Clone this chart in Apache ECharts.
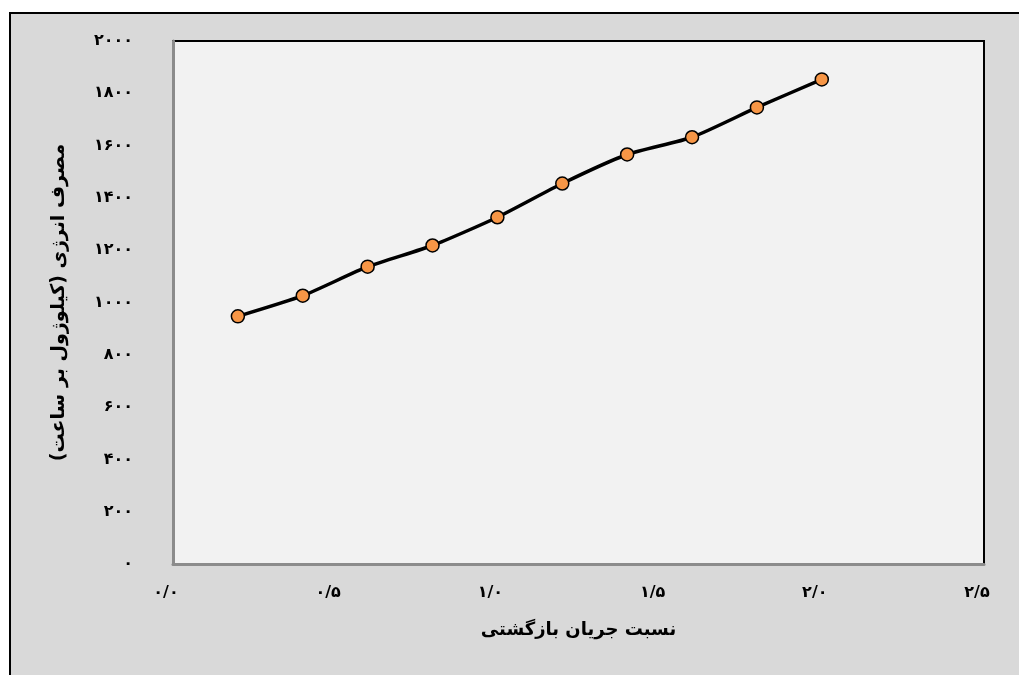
<!DOCTYPE html>
<html>
<head>
<meta charset="utf-8">
<title>energy chart</title>
<script src="https://cdn.jsdelivr.net/npm/echarts@6/dist/echarts.min.js"></script>
<style>
html,body{margin:0;padding:0;background:#fff;}
#chartDiv{width:1019px;height:675px;}
</style>
</head>
<body>
<div id="chartDiv"></div>
<script>
// نسبت جریان بازگشتی
var refluxRatio = [0.2, 0.4, 0.6, 0.8, 1.0, 1.2, 1.4, 1.6, 1.8, 2.0];
// مصرف انرژی
var energyUse = [947, 1026, 1137, 1218, 1326, 1455, 1566, 1632, 1746, 1853];
// tick labels
var xTickValues = [0, 0.5, 1.0, 1.5, 2.0, 2.5];
var xTickLabels = ['۰/۰', '۰/۵', '۱/۰', '۱/۵', '۲/۰', '۲/۵'];
var yTickValues = [0, 200, 400, 600, 800, 1000, 1200, 1400, 1600, 1800, 2000];
var yTickLabels = ['۰', '۲۰۰', '۴۰۰', '۶۰۰', '۸۰۰', '۱۰۰۰', '۱۲۰۰', '۱۴۰۰', '۱۶۰۰', '۱۸۰۰', '۲۰۰۰'];

var xTitle = 'نسبت جریان بازگشتی';
var yTitle = 'مصرف انرژی (کیلوژول بر ساعت)';

function tickLabel(values, labels, v){
	for (var i = 0; i < values.length; i++) {
		if (Math.abs(values[i] - v) < 1e-6) return labels[i];
	}
	return '';
}

function showChart(){
	var myChart = echarts.init(document.getElementById('chartDiv'));
	var points = [];
	for (var i = 0; i < refluxRatio.length; i++) {
		points.push([refluxRatio[i], energyUse[i]]);
	}
	var font = 'DejaVu Sans';
	var option = {
		backgroundColor: '#ffffff',
		animation: false,
		// outer frame
		graphic: [{
			type: 'rect',
			z: -10,
			shape: {x: 10, y: 13, width: 1030, height: 680},
			style: {fill: '#d9d9d9', stroke: '#000', lineWidth: 2}
		}],
		grid: {
			left: 173,
			top: 41,
			right: 35,
			bottom: 111,
			show: true,
			backgroundColor: '#f2f2f2',
			borderColor: '#000',
			borderWidth: 2
		},
		xAxis: {
			type: 'value',
			min: 0,
			max: 2.5,
			interval: 0.5,
			name: xTitle,
			nameLocation: 'middle',
			nameGap: 57,
			nameTextStyle: {fontFamily: font, fontSize: 18, fontWeight: 'bold', color: '#000', verticalAlign: 'top'},
			axisLine: {show: true, lineStyle: {color: '#8c8c8c', width: 3}},
			axisTick: {show: false},
			splitLine: {show: false},
			axisLabel: {
				margin: 21,
				padding: [0, 14, 0, 0],
				fontFamily: font,
				fontSize: 16,
				fontWeight: 'bold',
				color: '#000',
				formatter: function(v){ return tickLabel(xTickValues, xTickLabels, v); }
			}
		},
		yAxis: {
			type: 'value',
			min: 0,
			max: 2000,
			interval: 200,
			name: yTitle,
			nameLocation: 'middle',
			nameGap: 104,
			nameRotate: 90,
			nameTextStyle: {fontFamily: font, fontSize: 19, fontWeight: 'bold', color: '#000'},
			axisLine: {show: true, lineStyle: {color: '#8c8c8c', width: 3}},
			axisTick: {show: false},
			splitLine: {show: false},
			axisLabel: {
				margin: 40,
				fontFamily: font,
				fontSize: 16,
				fontWeight: 'bold',
				color: '#000',
				formatter: function(v){ return tickLabel(yTickValues, yTickLabels, v); }
			}
		},
		series: [{
			type: 'line',
			data: points,
			smooth: 0.2,
			symbol: 'circle',
			symbolSize: 13,
			lineStyle: {color: '#000', width: 3.5},
			itemStyle: {color: '#f79646', borderColor: '#000', borderWidth: 1.5}
		}]
	};
	myChart.setOption(option);
}

showChart();
</script>
</body>
</html>
